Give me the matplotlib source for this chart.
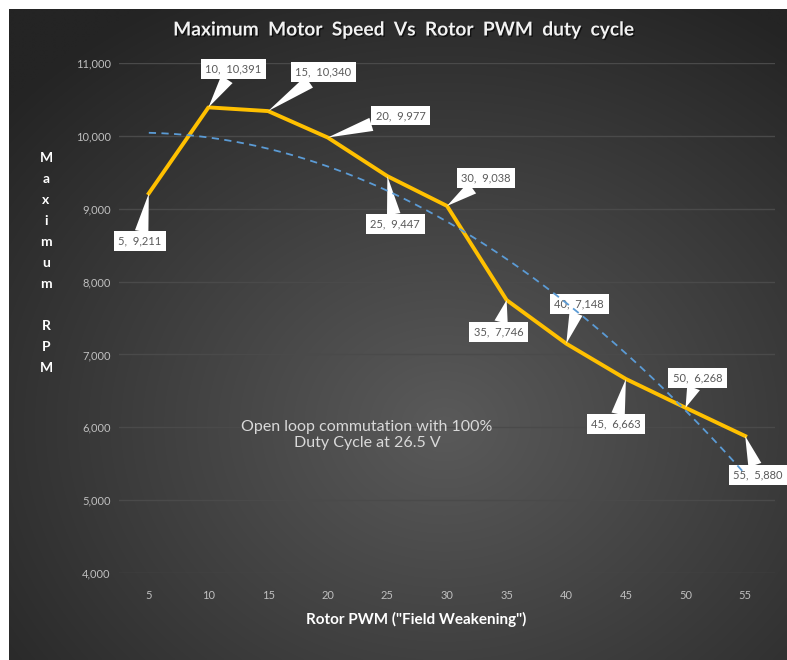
import numpy as np
import matplotlib
matplotlib.use("Agg")
import matplotlib.pyplot as plt
import matplotlib.patheffects as pe

# data
pwm = [5, 10, 15, 20, 25, 30, 35, 40, 45, 50, 55]
rpm = [9211, 10391, 10340, 9977, 9447, 9038, 7746, 7148, 6663, 6268, 5880]
yticks = [4000, 5000, 6000, 7000, 8000, 9000, 10000, 11000]
ylabel_txt = "Maximum RPM"
note = "Open loop commutation with 100%\nDuty Cycle at 26.5 V"

# callout box centre relative to its point, in pixels (x right, y up)
lab_dx = [-9, 25, 55, 73, 8, 39, -8, 13, -10, 12, 13]
lab_dy = [-48, 38, 39, 22, -48, 28, -32, 40, -45, 30, -39]

W, H = 787, 660
fig = plt.figure(figsize=(W / 100, H / 100), dpi=100)
fig.patch.set_facecolor("white")

# dark radial gradient background
bg = fig.add_axes([9 / W, 0, 1 - 9 / W, 1 - 9 / H])
gx, gy = np.meshgrid(np.linspace(0, 1, 400), np.linspace(0, 1, 340))
r = np.sqrt(((gx - 0.56) / 0.75) ** 2 + ((gy - 0.64) / 0.75) ** 2)
shade = (0x5a - (0x5a - 0x24) * np.clip(r, 0, 1)) / 255.0
bg.imshow(np.dstack([shade, shade, shade]), aspect="auto", extent=[0, 1, 0, 1],
          origin="upper", interpolation="bilinear")
bg.set_axis_off()

ax = fig.add_axes([119 / W, (H - 573) / H, (775 - 119) / W, 510 / H])
ax.set_facecolor("none")
x = np.arange(len(pwm))

ax.plot(x, rpm, color="#FFC000", lw=2.8, zorder=3, solid_joinstyle="round")

# polynomial (order 2) trendline like Excel's
coef = np.polyfit(x + 1, rpm, 2)
xs = np.linspace(0, len(pwm) - 1, 200)
ax.plot(xs, np.polyval(coef, xs + 1), color="#5B9BD5", lw=1.3, ls=(0, (4, 3)), zorder=5)

for i in range(len(pwm)):
    ax.annotate(f"{pwm[i]},  {rpm[i]:,}", xy=(x[i], rpm[i]),
                xytext=(lab_dx[i] * 0.72, lab_dy[i] * 0.72), textcoords="offset points",
                ha="center", va="center", fontsize=8, color="#595959", family="Lato",
                bbox=dict(boxstyle="square,pad=0.4", fc="white", ec="none"),
                arrowprops=dict(arrowstyle="wedge,tail_width=0.7", fc="white", ec="none",
                                shrinkA=0, shrinkB=0, mutation_scale=14),
                zorder=4)

ax.set_xlim(-0.5, len(pwm) - 0.5)
ax.set_ylim(yticks[0], yticks[-1])
ax.set_xticks(x)
ax.set_xticklabels([str(p) for p in pwm], family="Lato")
ax.set_yticks(yticks)
ax.set_yticklabels([f"{t:,}" for t in yticks], family="Lato")
ax.grid(axis="y", color="#4a4a4a", lw=1)
ax.set_axisbelow(True)
for s in ax.spines.values():
    s.set_visible(False)
ax.tick_params(axis="both", length=0, colors="#bfbfbf", labelsize=8)
ax.tick_params(axis="x", pad=12)
ax.tick_params(axis="y", pad=6)

ax.text(0.378, 0.27, note, transform=ax.transAxes, ha="center", va="center",
        fontsize=11.5, color="#d9d9d9", family="Lato", linespacing=1.2)

fig.text(403 / W, 1 - 30 / H, "Maximum  Motor  Speed  Vs  Rotor  PWM  duty  cycle",
         ha="center", va="center", fontsize=13.8, fontweight="bold", color="#f2f2f2",
         family="Lato",
         path_effects=[pe.withSimplePatchShadow(offset=(1, -1), shadow_rgbFace="black", alpha=0.6)])

fig.text(416 / W, 1 - 619 / H, 'Rotor PWM ("Field Weakening")', ha="center", va="center",
         fontsize=11, fontweight="bold", color="white", family="Lato")

# vertical stacked y label
for k, ch in enumerate(ylabel_txt):
    fig.text(46 / W, 1 - (158 + 21 * k) / H, ch, ha="center", va="center",
             fontsize=10, fontweight="bold", color="white", family="Lato")

fig.savefig("out.png", dpi=100, facecolor=fig.get_facecolor())
